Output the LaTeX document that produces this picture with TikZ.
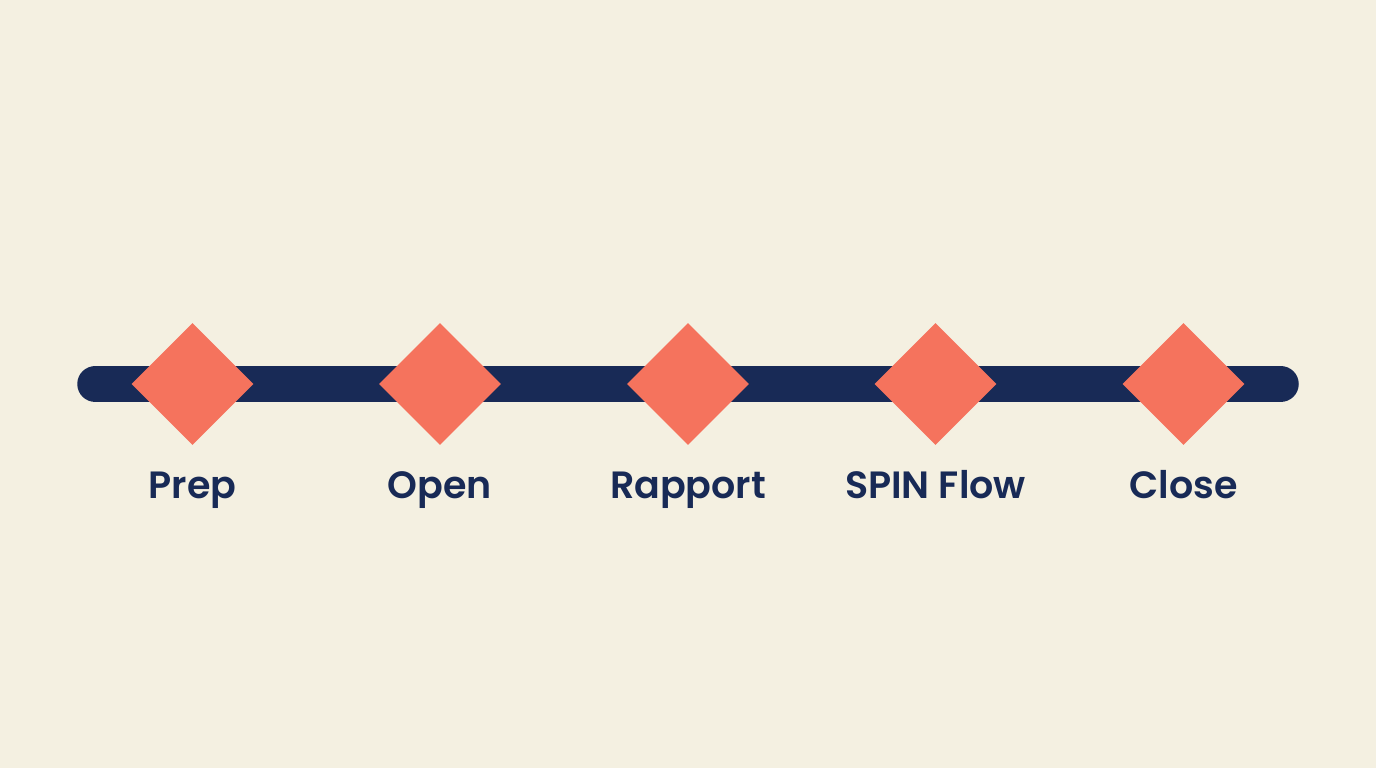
\documentclass[tikz,border=0pt]{standalone}
\usepackage{fontspec}
\setmainfont{Poppins SemiBold}
\usepackage{tikz}
\usetikzlibrary{positioning, shapes.geometric}
\definecolor{cream}{HTML}{F4F0E1}
\definecolor{navy}{HTML}{182A56}
\definecolor{coral}{HTML}{F5735D}

\begin{document}
\begin{tikzpicture}[
    x=1pt, y=-1pt,
    marker/.style={diamond, fill=coral, inner sep=0pt, minimum width=122pt, minimum height=122pt},
    stagelabel/.style={font=\fontsize{38}{44}\selectfont, text=navy, anchor=base}
]

    % === Background ===
    \fill[cream] (0, 0) rectangle (1376, 768);
    \useasboundingbox (0, 0) rectangle (1376, 768);

    % === Bar ===
    \coordinate (barstart) at (95.5, 384);
    \coordinate (barend) at (1280.5, 384);
    \draw[navy, line width=36.5pt, line cap=round] (barstart) -- (barend);

    % === Stages ===
    \node[marker] (prep) at (192.5, 384) {};
    \node[marker] (open) at (440, 384) {};
    \node[marker] (rapport) at (688, 384) {};
    \node[marker] (spin) at (935.5, 384) {};
    \node[marker] (close) at (1183.5, 384) {};

    \node[stagelabel] (preplabel) at (192.5, 498) {Prep};
    \node[stagelabel] (openlabel) at (440, 498) {Open};
    \node[stagelabel] (rapportlabel) at (688, 498) {Rapport};
    \node[stagelabel] (spinlabel) at (935.5, 498) {SPIN Flow};
    \node[stagelabel] (closelabel) at (1183.5, 498) {Close};

\end{tikzpicture}
\end{document}
